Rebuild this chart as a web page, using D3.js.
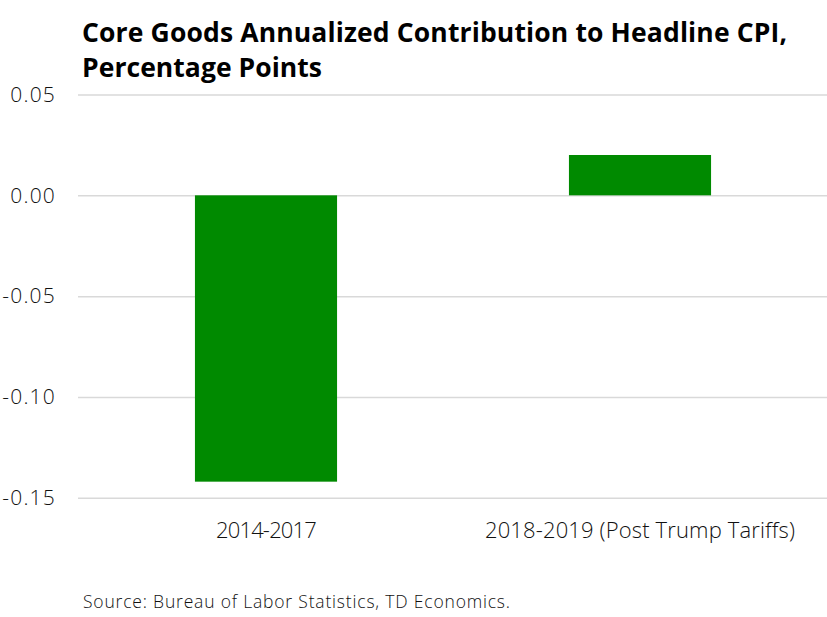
<!DOCTYPE html>
<html>
<head>
<meta charset="utf-8">
<script src="https://cdn.jsdelivr.net/npm/d3@7"></script>
<style>
  html, body { margin: 0; padding: 0; background: #fff; }
  svg { display: block; }
</style>
</head>
<body>
<svg id="chart" width="827" height="617"></svg>
<script>
const categories = ["2014-2017", "2018-2019 (Post Trump Tariffs)"];
const values = [-0.142, 0.020];
const yTicks = [0.05, 0.00, -0.05, -0.10, -0.15];
const titleLines = ["Core Goods Annualized Contribution to Headline CPI,", "Percentage Points"];
const sourceText = "Source: Bureau of Labor Statistics, TD Economics.";

const svg = d3.select("#chart");
const plotL = 78, plotR = 827, plotT = 94.5, plotB = 497.8;

const x = d3.scaleBand().domain(categories).range([plotL + 1, plotR]).paddingInner(0.62).paddingOuter(0.31);
const y = d3.scaleLinear().domain([-0.15, 0.05]).range([plotB, plotT]);

const font = "'Open Sans', Lato, sans-serif";

// fit a text element to a target width by adjusting letter spacing
function fit(sel, target) {
  sel.each(function () {
    const n = this.getNumberOfChars();
    const w = this.getComputedTextLength();
    const ls = (target - w) / Math.max(1, n - 1);
    d3.select(this).attr("letter-spacing", ls.toFixed(3));
  });
}

// title
const titleWidths = [705, 240];
svg.append("g").selectAll("text").data(titleLines).join("text")
  .attr("x", 82).attr("y", (d, i) => 42 + i * 35)
  .attr("font-family", font).attr("font-weight", 700).attr("font-size", 26.5)
  .attr("fill", "#000").text(d => d)
  .each(function (d, i) { fit(d3.select(this), titleWidths[i]); });

// gridlines + y tick labels
const fmt = d => d3.format(".2f")(d).replace("\u2212", "-");
const yAxis = d3.axisLeft(y).tickValues(yTicks).tickSize(-(plotR - plotL)).tickFormat(fmt);
const gy = svg.append("g").attr("transform", `translate(${plotL},0)`).call(yAxis);
gy.select(".domain").remove();
gy.selectAll(".tick line").attr("stroke", "#d9d9d9").attr("stroke-width", 1.5);
gy.selectAll(".tick text").attr("x", -22).attr("dy", "0.32em")
  .attr("font-family", font).attr("font-weight", 300).attr("font-size", 21).attr("fill", "#111")
  .attr("letter-spacing", 1.2);

// bars
svg.append("g").selectAll("rect").data(values).join("rect")
  .attr("x", (d, i) => x(categories[i]))
  .attr("width", x.bandwidth())
  .attr("y", d => y(Math.max(0, d)))
  .attr("height", d => Math.abs(y(d) - y(0)))
  .attr("fill", "#008a00");

// x labels
const catWidths = [101, 310];
const xAxis = d3.axisBottom(x).tickSize(0);
const gx = svg.append("g").attr("transform", `translate(0,${plotB})`).call(xAxis);
gx.select(".domain").remove();
gx.selectAll(".tick text").attr("y", 40.5).attr("dy", 0)
  .attr("font-family", font).attr("font-weight", 300).attr("font-size", 22).attr("fill", "#111")
  .each(function (d, i) { fit(d3.select(this), catWidths[i]); });

// source
svg.append("text").attr("x", 83).attr("y", 608)
  .attr("font-family", font).attr("font-weight", 300).attr("font-size", 17.5).attr("fill", "#111")
  .text(sourceText)
  .call(fit, 427);
</script>
</body>
</html>
